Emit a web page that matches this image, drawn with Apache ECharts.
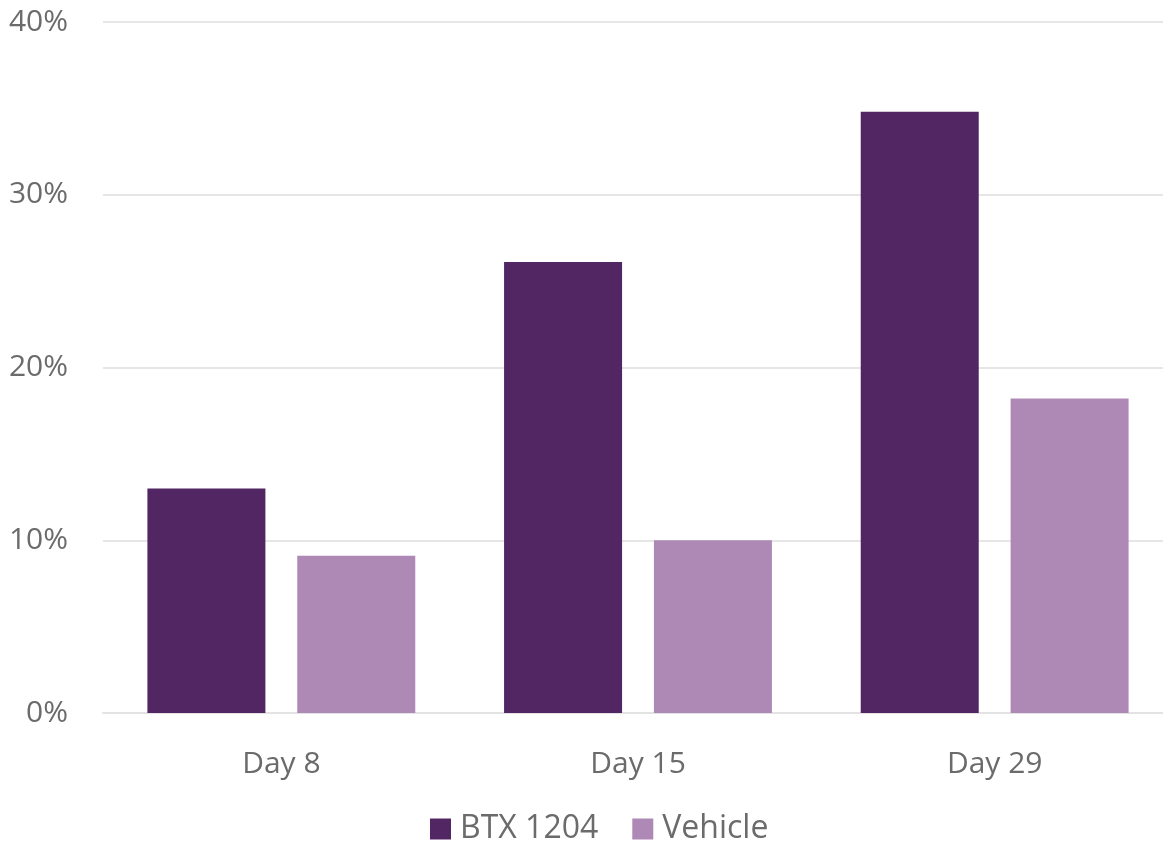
<!DOCTYPE html>
<html>
<head>
<meta charset="utf-8">
<script src="https://cdn.jsdelivr.net/npm/echarts@6/dist/echarts.min.js"></script>
<style>
  html, body { margin: 0; padding: 0; background: #fff; }
  #main { width: 1163px; height: 848px; }
</style>
</head>
<body>
<div id="main"></div>
<script>
var days = ['Day 8', 'Day 15', 'Day 29'];
var btx = [13.0, 26.1, 34.8];
var vehicle = [9.1, 10.0, 18.2];
var yTicks = [0, 10, 20, 30, 40];

var chart = echarts.init(document.getElementById('main'));
var textColor = '#6b6b6b';
var font = '"Open Sans", sans-serif';

var option = {
  animation: false,
  textStyle: { fontFamily: font },
  // plot runs a little past the right edge of the canvas, as in the original
  grid: { left: 103, width: 1070, top: 22, height: 691, outerBoundsMode: 'none', containLabel: false },
  legend: {
    bottom: -2,
    left: 425,
    icon: 'rect',
    itemWidth: 21,
    itemHeight: 21,
    itemGap: 34,
    textStyle: { fontSize: 32, color: textColor, fontFamily: font, padding: [0, 0, 0, 4] },
    data: ['BTX 1204', 'Vehicle']
  },
  xAxis: {
    type: 'category',
    data: days,
    axisLine: { lineStyle: { color: '#e3e3e3', width: 2 } },
    axisTick: { show: false },
    axisLabel: { fontSize: 30, color: textColor, margin: 36 }
  },
  yAxis: {
    type: 'value',
    min: yTicks[0],
    max: yTicks[yTicks.length - 1],
    interval: 10,
    axisLine: { show: false },
    axisTick: { show: false },
    splitLine: { lineStyle: { color: '#e6e6e6', width: 2 } },
    axisLabel: { fontSize: 30, color: textColor, margin: 35, formatter: '{value}%' }
  },
  series: [
    {
      name: 'BTX 1204',
      type: 'bar',
      data: btx,
      barWidth: 118,
      barGap: '27%',
      itemStyle: { color: '#512663' }
    },
    {
      name: 'Vehicle',
      type: 'bar',
      data: vehicle,
      barWidth: 118,
      itemStyle: { color: '#ae89b6' }
    }
  ]
};
chart.setOption(option);
</script>
</body>
</html>
